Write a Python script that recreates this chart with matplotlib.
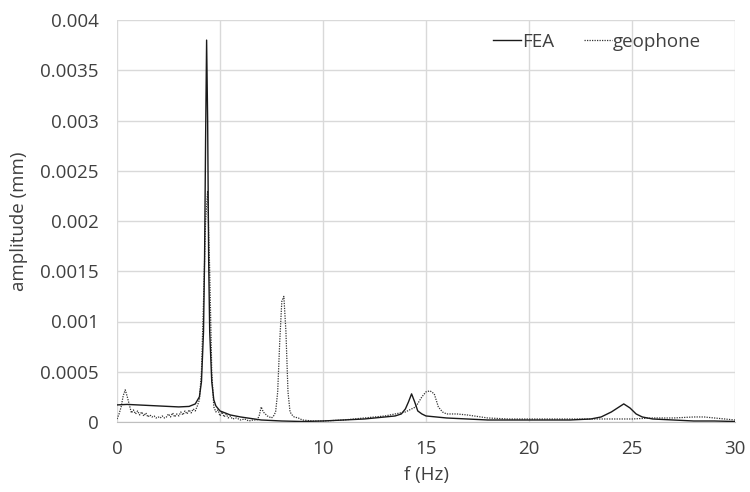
import matplotlib
matplotlib.use("Agg")
import matplotlib.pyplot as plt
from matplotlib.lines import Line2D

plt.rcParams['font.family'] = ['Open Sans', 'DejaVu Sans']

fea_f = [0, 0.5, 1, 1.5, 2, 2.5, 3, 3.5, 3.8, 4.0, 4.1, 4.2, 4.25, 4.3, 4.35, 4.4, 4.45, 4.5,
         4.6, 4.7, 4.8, 5.0, 5.5, 6, 7, 8, 9, 10, 11, 12, 13, 13.5, 13.8, 14.0, 14.15, 14.3,
         14.45, 14.6, 14.8, 15, 16, 17, 18, 20, 22, 23, 23.5, 24, 24.3, 24.6, 24.9, 25.2,
         25.5, 26, 27, 28, 29, 30]
fea_amp = [0.00017, 0.000175, 0.00017, 0.000165, 0.00016, 0.000155, 0.00015, 0.000155,
           0.00018, 0.00025, 0.0004, 0.0009, 0.0016, 0.0028, 0.0038, 0.0030, 0.0016, 0.0009,
           0.0004, 0.00022, 0.00016, 0.00011, 0.00007, 0.00005, 0.00002, 0.00001, 0.000005,
           0.00001, 0.00002, 0.00003, 0.00005, 0.00006, 0.00008, 0.00013, 0.0002, 0.00028,
           0.0002, 0.00011, 0.00008, 0.00006, 0.00004, 0.00003, 0.00002, 0.00002, 0.00002,
           0.00003, 0.00005, 0.0001, 0.00014, 0.00018, 0.00014, 0.00008, 0.00005, 0.00003,
           0.00002, 0.00001, 0.00001, 0.000005]

geo_f = [0, 0.1, 0.2, 0.3, 0.4, 0.5, 0.6, 0.7, 0.8, 0.9, 1.0, 1.1, 1.2, 1.3, 1.4, 1.5, 1.6,
         1.7, 1.8, 1.9, 2.0, 2.1, 2.2, 2.3, 2.4, 2.5, 2.6, 2.7, 2.8, 2.9, 3.0, 3.1, 3.2, 3.3,
         3.4, 3.5, 3.6, 3.7, 3.8, 3.9, 4.0, 4.1, 4.2, 4.3, 4.4, 4.5, 4.6, 4.7, 4.8, 4.9, 5.0,
         5.1, 5.2, 5.3, 5.4, 5.5, 5.6, 5.8, 6.0, 6.2, 6.4, 6.6, 6.8, 6.9, 7.0, 7.1, 7.2, 7.3,
         7.5, 7.6, 7.7, 7.8, 7.9, 8.0, 8.1, 8.2, 8.3, 8.4, 8.5, 8.6, 8.8, 9.0, 9.5, 10, 11,
         12, 13, 13.5, 14, 14.5, 14.8, 15.0, 15.2, 15.4, 15.6, 15.8, 16, 16.5, 17, 18, 19,
         20, 22, 24, 25, 26, 27, 28, 28.5, 29, 29.5, 30]
geo_amp = [0.00003, 0.00008, 0.00015, 0.00026, 0.00032, 0.00025, 0.00017, 0.00009, 0.00012,
           0.00008, 0.00011, 0.00007, 0.0001, 0.00006, 0.00009, 0.00005, 0.00007, 0.00005,
           0.00006, 0.00004, 0.00005, 0.00004, 0.00006, 0.00004, 0.00005, 0.00008, 0.00005,
           0.00009, 0.00005, 0.00008, 0.00006, 0.0001, 0.00007, 0.00011, 0.00008, 0.00012,
           0.00009, 0.00013, 0.00011, 0.00016, 0.00022, 0.0005, 0.0012, 0.0020, 0.0023,
           0.0015, 0.0005, 0.00015, 0.0001, 0.00012, 0.00006, 0.0001, 0.00005, 0.00008,
           0.00004, 0.00006, 0.00003, 0.00004, 0.00002, 0.00003, 0.00001, 0.00002, 0.00002,
           0.00006, 0.00015, 0.0001, 0.00008, 0.00006, 0.00004, 0.00006, 0.0001, 0.0003,
           0.0008, 0.0012, 0.00125, 0.0009, 0.0003, 0.0001, 0.00007, 0.00005, 0.00004,
           0.00002, 0.00001, 0.00001, 0.00002, 0.00004, 0.00006, 0.00008, 0.0001, 0.00015,
           0.00025, 0.0003, 0.00031, 0.00028, 0.00015, 0.0001, 0.00008, 0.00008, 0.00007,
           0.00004, 0.00003, 0.00003, 0.00003, 0.00003, 0.00003, 0.00004, 0.00004, 0.00005,
           0.00005, 0.00004, 0.00003, 0.00002]

xticks = [0, 5, 10, 15, 20, 25, 30]
yticks = [0, 0.0005, 0.001, 0.0015, 0.002, 0.0025, 0.003, 0.0035, 0.004]
ytick_labels = ['0', '0.0005', '0.001', '0.0015', '0.002', '0.0025', '0.003', '0.0035', '0.004']

text_color = '#404040'
fs = 13.5
fig = plt.figure(figsize=(7.5, 4.92), dpi=100)
ax = fig.add_axes([117/750, 1 - 422/492, (735-117)/750, (422-20)/492])

ax.plot(fea_f, fea_amp, color='#1a1a1a', lw=1.0, label='FEA', zorder=3)
ax.plot(geo_f, geo_amp, color='#333333', lw=0.9, ls=(0, (1, 1)), label='geophone', zorder=2)

ax.set_xlim(0, 30)
ax.set_ylim(0, 0.004)
ax.set_xticks(xticks)
ax.set_xticklabels([str(t) for t in xticks])
ax.set_yticks(yticks)
ax.set_yticklabels(ytick_labels)
ax.grid(True, color='#d9d9d9', lw=1.0)
ax.set_axisbelow(True)
for s in ['top', 'right', 'left']:
    ax.spines[s].set_visible(False)
ax.spines['bottom'].set_color('#bfbfbf')
ax.tick_params(length=0, labelsize=fs, colors=text_color, pad=13)
ax.set_xlabel('f (Hz)', fontsize=fs, color=text_color, labelpad=6)
ax.set_ylabel('amplitude (mm)', fontsize=fs, color=text_color, labelpad=9)

handles = [Line2D([], [], color='#1a1a1a', lw=1.0),
           Line2D([], [], color='#333333', lw=0.9, ls=(0, (1, 1)))]
fig.legend(handles, ['FEA', 'geophone'], loc='center', bbox_to_anchor=(597/750, 1 - 42/492),
           ncol=2, frameon=False, fontsize=fs, handlelength=1.5, handletextpad=0.05,
           columnspacing=1.6, labelcolor=text_color, borderpad=0, borderaxespad=0)

fig.savefig('out.png', dpi=100)
